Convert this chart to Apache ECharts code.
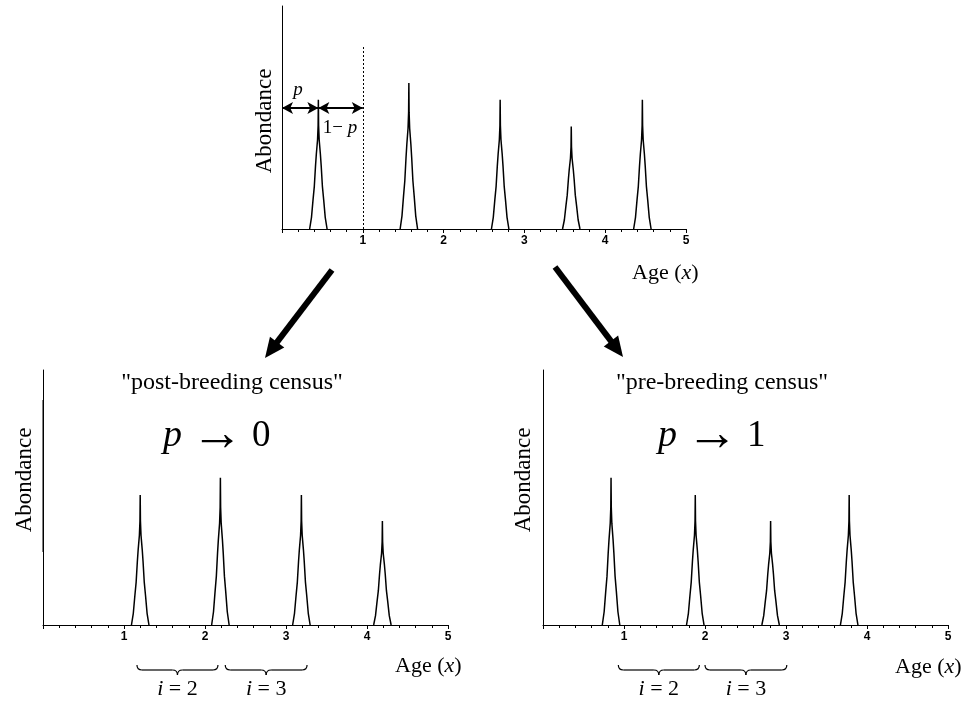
<!DOCTYPE html>
<html><head><meta charset="utf-8">
<script src="https://cdn.jsdelivr.net/npm/echarts@6/dist/echarts.min.js"></script>
<style>html,body{margin:0;padding:0;background:#fff}#c{width:967px;height:702px}</style>
</head><body><div id="c"></div>
<script>
// ---- data ----
const xTickValues = [0, 1, 2, 3, 4, 5];
const yAxisLabel = 'Abondance';
const xAxisLabel = 'Age';
const topCenters = [0.45, 1.57, 2.70, 3.58, 4.46];
const topHeights = [58, 65.5, 58, 46, 58];
const postCenters = [1.20, 2.19, 3.19, 4.19];
const postHeights = [58.3, 66, 58.3, 46.6];
const preCenters = [0.84, 1.88, 2.81, 3.78];
const preHeights = [66, 58.3, 46.6, 58.3];
// shape of one peak: offset in age, fraction of peak height
const profileOffsets = [-0.108, -0.085, -0.066, -0.05, -0.035, -0.025, -0.01, -0.003, 0, 0.003, 0.01, 0.025, 0.035, 0.05, 0.066, 0.085, 0.108];
const profileFractions = [0, 0.09, 0.225, 0.33, 0.49, 0.58, 0.69, 0.8, 1, 0.8, 0.69, 0.58, 0.49, 0.33, 0.225, 0.09, 0];
const pValue = 0.45;          // first cohort age in top panel
const pArrowLevel = 54.3;     // abundance level of p / 1-p arrows
const dashedTop = 81.6;       // top of dashed line at age 1
const postBraces = [[1.16, 2.16], [2.25, 3.26]];
const preBraces = [[0.93, 1.93], [2.0, 3.01]];
const braceLabels = ['2', '3'];
const titles = ['"post-breeding census"', '"pre-breeding census"'];
const limitLabels = ['0', '1'];

const chart = echarts.init(document.getElementById('c'));
const SERIF = '"Liberation Serif","DejaVu Serif",serif';

function peakSeries(centers, heights, axisIdx) {
  return centers.map((c, i) => ({
    type: 'line', xAxisIndex: axisIdx, yAxisIndex: axisIdx,
    data: profileOffsets.map((o, j) => [+(c + o).toFixed(4), heights[i] * profileFractions[j]]),
    symbol: 'none', silent: true, animation: false,
    lineStyle: { color: '#000', width: 1.5 }
  }));
}

function xAx(gi) {
  return {
    type: 'value', gridIndex: gi, min: 0, max: 5, interval: 1,
    axisLine: { show: true, lineStyle: { color: '#000', width: 1 } },
    axisTick: { show: true, length: 4, lineStyle: { color: '#000' } },
    minorTick: { show: true, splitNumber: 5, length: 3, lineStyle: { color: '#000' } },
    splitLine: { show: false },
    axisLabel: { margin: 6, color: '#000', fontWeight: 'bold', fontSize: 12, fontFamily: '"Liberation Sans",Arial,sans-serif',
      formatter: v => (v === xTickValues[0] ? '' : String(v)), showMaxLabel: true }
  };
}
function yAx(gi, max) {
  return {
    type: 'value', gridIndex: gi, min: 0, max: max,
    axisLine: { show: true, onZero: false, lineStyle: { color: '#000', width: 1 } },
    axisTick: { show: false }, axisLabel: { show: false }, splitLine: { show: false }
  };
}

const series = [].concat(
  peakSeries(topCenters, topHeights, 0),
  peakSeries(postCenters, postHeights, 1),
  peakSeries(preCenters, preHeights, 2)
);
series.push({
  type: 'line', xAxisIndex: 0, yAxisIndex: 0, data: [], silent: true, animation: false,
  markLine: { silent: true, animation: false, symbol: ['none', 'none'], label: { show: false },
    lineStyle: { type: [2, 2], color: '#000', width: 1 },
    data: [[{ coord: [1, 0] }, { coord: [1, dashedTop] }]] }
});
series.push({
  type: 'line', xAxisIndex: 0, yAxisIndex: 0, data: [], silent: true, animation: false,
  markLine: { silent: true, animation: false, symbol: ['arrow', 'arrow'], symbolSize: [9, 11], label: { show: false },
    lineStyle: { type: 'solid', color: '#000', width: 2 },
    data: [
      [{ coord: [0, pArrowLevel] }, { coord: [pValue, pArrowLevel] }],
      [{ coord: [pValue, pArrowLevel] }, { coord: [1, pArrowLevel] }]
    ] }
});

function bigArrow(x1, y1, x2, y2) {
  const dx = x2 - x1, dy = y2 - y1, len = Math.hypot(dx, dy);
  const ux = dx / len, uy = dy / len, nx = -uy, ny = ux;
  const L = 20, W = 9;
  const bx = x2 - ux * L, by = y2 - uy * L;
  return [
    { type: 'line', silent: true, shape: { x1: x1, y1: y1, x2: bx + ux * 2, y2: by + uy * 2 }, style: { stroke: '#000', lineWidth: 6 } },
    { type: 'polygon', silent: true, shape: { points: [[x2, y2], [bx + nx * W, by + ny * W], [bx - nx * W, by - ny * W]] }, style: { fill: '#000' } }
  ];
}

function txt(x, y, text, size, opts) {
  return {
    type: 'text', silent: true, x: x, y: y,
    style: Object.assign({ text: text, font: size + 'px ' + SERIF, fill: '#000', textAlign: 'center', textVerticalAlign: 'middle',
      rich: { i: { fontStyle: 'italic', fontSize: size, fontFamily: SERIF } } }, opts || {})
  };
}

const limitRich = {
  b: { fontStyle: 'italic', fontSize: 38, fontFamily: SERIF },
  a: { fontSize: 52, fontFamily: SERIF },
  n: { fontSize: 37, fontFamily: SERIF }
};

const staticGraphics = [
  Object.assign(txt(265, 121, yAxisLabel, 23), { rotation: Math.PI / 2 }),
  Object.assign(txt(25, 480, yAxisLabel, 23), { rotation: Math.PI / 2 }),
  Object.assign(txt(524, 480, yAxisLabel, 23), { rotation: Math.PI / 2 }),
  txt(632, 273, xAxisLabel + ' ({i|x})', 22, { textAlign: 'left' }),
  txt(395, 666, xAxisLabel + ' ({i|x})', 22, { textAlign: 'left' }),
  txt(895, 667, xAxisLabel + ' ({i|x})', 22, { textAlign: 'left' }),
  txt(232, 383, titles[0], 24),
  txt(722, 383, titles[1], 24),
  txt(163, 436, '{b|p} {a|→} {n|' + limitLabels[0] + '}', 36, { textAlign: 'left', rich: limitRich }),
  txt(658, 436, '{b|p} {a|→} {n|' + limitLabels[1] + '}', 36, { textAlign: 'left', rich: limitRich }),
  txt(298, 90, '{i|p}', 19),
  txt(340, 128, '1− {i|p}', 19),
  { type: 'rect', silent: true, shape: { x: 42.5, y: 400, width: 1.2, height: 152 }, style: { fill: '#000' } }
].concat(bigArrow(332, 270, 265, 358), bigArrow(555, 267, 623, 357));

chart.setOption({
  animation: false,
  backgroundColor: '#fff',
  grid: [
    { left: 282, top: 6, width: 404, height: 223 },
    { left: 43, top: 370, width: 405, height: 255 },
    { left: 543, top: 370, width: 405, height: 255 }
  ],
  xAxis: [xAx(0), xAx(1), xAx(2)],
  yAxis: [yAx(0, 100), yAx(1, 114.3), yAx(2, 114.3)],
  series: series
});

function braceGraphics(braces, axisIdx) {
  const out = [];
  const y0 = 665, q = 5;
  const st = { stroke: '#000', lineWidth: 1.2, fill: null };
  const bz = (x1, y1, cx, cy, x2, y2) => ({ type: 'bezierCurve', silent: true, shape: { x1: x1, y1: y1, cpx1: cx, cpy1: cy, x2: x2, y2: y2 }, style: st });
  const ln = (x1, y1, x2, y2) => ({ type: 'line', silent: true, shape: { x1: x1, y1: y1, x2: x2, y2: y2 }, style: st });
  braces.forEach((b, k) => {
    const x0 = chart.convertToPixel({ xAxisIndex: axisIdx }, b[0]);
    const x1 = chart.convertToPixel({ xAxisIndex: axisIdx }, b[1]);
    const xm = (x0 + x1) / 2;
    out.push(bz(x0, y0, x0, y0 + q, x0 + q, y0 + q));
    out.push(ln(x0 + q, y0 + q, xm - q, y0 + q));
    out.push(bz(xm - q, y0 + q, xm, y0 + q, xm, y0 + 2 * q));
    out.push(bz(xm, y0 + 2 * q, xm, y0 + q, xm + q, y0 + q));
    out.push(ln(xm + q, y0 + q, x1 - q, y0 + q));
    out.push(bz(x1 - q, y0 + q, x1, y0 + q, x1, y0));
    out.push(txt(xm, 689, '{i|i} = ' + braceLabels[k], 22));
  });
  return out;
}

chart.setOption({
  graphic: { elements: staticGraphics.concat(braceGraphics(postBraces, 1), braceGraphics(preBraces, 2)) }
});
</script>
</body></html>
